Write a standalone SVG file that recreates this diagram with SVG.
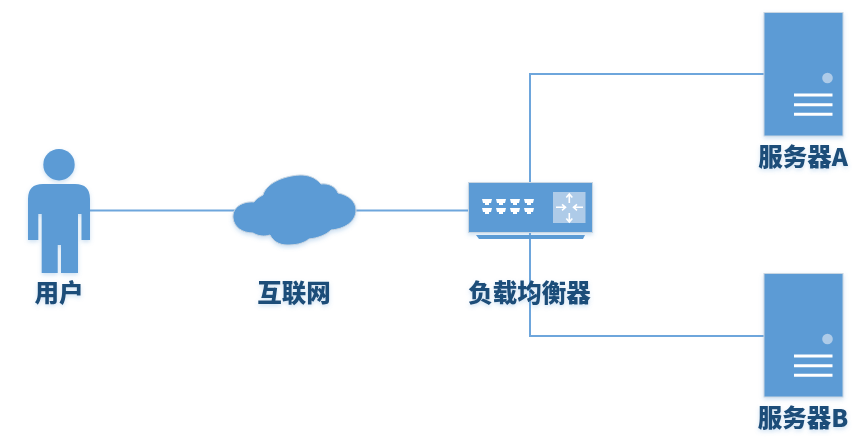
<svg xmlns="http://www.w3.org/2000/svg" width="865" height="446" viewBox="0 0 865 446">
<style>
.shape{fill:#5b9bd5}
.edge{stroke:#c9d6e2;stroke-width:1}
.wire{fill:none;stroke:#6ea6dc;stroke-width:2}
.lbl{font-family:"Noto Sans CJK SC","Liberation Sans",sans-serif;font-weight:900;font-size:24.5px;fill:#1f4e79;text-anchor:middle;filter:url(#ts)}
.w{fill:#fff}
.wl{stroke:#fff;stroke-width:1.6;fill:none}
</style>
<defs>
<filter id="sh" x="-15%" y="-15%" width="130%" height="130%"><feDropShadow dx="0" dy="2" stdDeviation="2" flood-color="#5b9bd5" flood-opacity="0.3"/></filter>
<filter id="ts" x="-15%" y="-15%" width="130%" height="140%"><feDropShadow dx="0" dy="2" stdDeviation="2" flood-color="#5b9bd5" flood-opacity="0.3"/></filter>
<symbol id="server" overflow="visible">
<rect class="shape edge" x="0" y="0.5" width="79" height="123.500" filter="url(#sh)"/>
<circle cx="63.500" cy="66" r="5.300" fill="#aecbe8"/>
<path d="M30 83H68.500M30 92.700H68.500M30 102.300H68.500" stroke="#fff" stroke-width="3" fill="none"/>
</symbol>
</defs>
<rect width="865" height="446" fill="#fff"/>
<g id="connectors">
<path class="wire" d="M90 210.500H468"/>
<path class="wire" d="M764 74H530V336H764"/>
</g>
<g id="user" filter="url(#sh)">
<circle class="shape" cx="59" cy="164.700" r="15.700"/>
<path class="shape" d="M43 184H75Q90 184 90 199V240H81.500V214H78V273H61V245H57.700V273H41.700V214H38.300V240H28V199Q28 184 43 184Z"/>
</g>
<text class="lbl" x="59" y="302">用户</text>
<g id="internet">
<path class="shape edge" filter="url(#sh)" d="M233 218C232 207 243 201 254 202C256 199 259 197 263 195C266 184 282 176 300 175C308 175 315 177 321 184C329 183 336 187 338 193C349 195 356 202 356 210C356 222 344 229 331 230C326 235 318 238 309 239C303 244 295 245 287 245C279 245 273 241 270 235C264 237 258 236 253 233C242 233 234 227 233 218Z"/>
</g>
<text class="lbl" x="294" y="302">互联网</text>
<g id="lb">
<rect class="shape edge" x="468.500" y="182.500" width="124" height="50" filter="url(#sh)"/>
<path class="shape" d="M476 235H585L583 239H479Z"/>
<rect x="553" y="192" width="32.500" height="31" fill="#aecbe8"/>
<path class="w" d="M482 199H492L491 203H489V205H485V203H483ZM496 199H506L505 203H503V205H499V203H497ZM510 199H520L519 203H517V205H513V203H511ZM524 199H534L533 203H531V205H527V203H525ZM482 208H492L491 212H489V214H485V212H483ZM496 208H506L505 212H503V214H499V212H497ZM510 208H520L519 212H517V214H513V212H511ZM524 208H534L533 212H531V214H527V212H525Z"/>
<path class="wl" d="M569.300 194.500V203M566.300 197.500L569.300 194L572.300 197.500M569.300 213V222M566.300 218.500L569.300 222L572.300 218.500M556 207.300H565M562 204.300L565.500 207.300L562 210.300M583 207.300H574M577 204.300L573.500 207.300L577 210.300"/>
</g>
<text class="lbl" x="529.500" y="302">负载均衡器</text>
<g id="serverA"><use href="#server" x="764" y="12"/></g>
<text class="lbl" x="803" y="166">服务器A</text>
<g id="serverB"><use href="#server" x="764" y="273"/></g>
<text class="lbl" x="803" y="427">服务器B</text>
</svg>
